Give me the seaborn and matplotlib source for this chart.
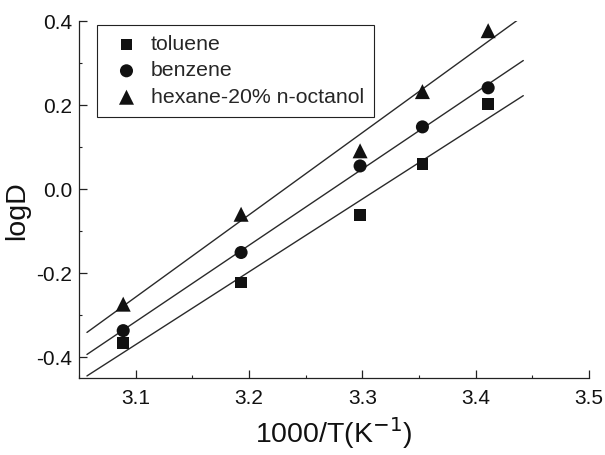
import numpy as np
import pandas as pd
import matplotlib

matplotlib.use("Agg")

import matplotlib.pyplot as plt
import seaborn as sns
from matplotlib.ticker import MultipleLocator, FormatStrFormatter

# data
inv_T = [3.089, 3.193, 3.298, 3.353, 3.411]   # 1000/T (K^-1)
toluene = [-0.367, -0.222, -0.062, 0.060, 0.202]
benzene = [-0.337, -0.151, 0.055, 0.148, 0.241]
hexane = [-0.274, -0.060, 0.091, 0.232, 0.377]
labels = ["toluene", "benzene", "hexane-20% n-octanol"]
FIT_RANGE = [3.057, 3.442]

sns.set_theme(style="ticks")
plt.rcParams["font.family"] = ["Liberation Sans", "DejaVu Sans"]

series = [toluene, benzene, hexane]
markers = ["s", "o", "^"]
sizes = [8.3, 9.4, 10.8]   # marker size in points

fig = plt.figure(figsize=(6.05, 4.55), dpi=100)
ax = fig.add_axes([0.1306, 0.169, 0.843, 0.7848])

for vals, lab, mk, ms in zip(series, labels, markers, sizes):
    df = pd.DataFrame({"x": inv_T, "y": vals})
    slope, icpt = np.polyfit(df["x"], df["y"], 1)
    fx = np.array(FIT_RANGE)
    sns.lineplot(x=fx, y=slope * fx + icpt, color="#2a2a2a", lw=1.0, ax=ax)
    sns.scatterplot(data=df, x="x", y="y", marker=mk, s=ms ** 2, color="#111111",
                    edgecolor="none", label=lab, ax=ax, zorder=3)

ax.set_xlim(3.05, 3.5)
ax.set_ylim(-0.45, 0.4)
ax.xaxis.set_major_locator(MultipleLocator(0.1))
ax.xaxis.set_minor_locator(MultipleLocator(0.05))
ax.yaxis.set_major_locator(MultipleLocator(0.2))
ax.yaxis.set_minor_locator(MultipleLocator(0.1))
ax.xaxis.set_major_formatter(FormatStrFormatter("%.1f"))
ax.yaxis.set_major_formatter(FormatStrFormatter("%.1f"))

sns.despine(ax=ax)
for sp in ["left", "bottom"]:
    ax.spines[sp].set_linewidth(0.9)
    ax.spines[sp].set_color("#222222")

ax.tick_params(which="major", direction="in", length=5.5, width=0.9,
               labelsize=15, colors="#222222", labelcolor="#111111")
ax.tick_params(axis="x", which="major", pad=8)
ax.tick_params(axis="y", which="major", pad=5)
ax.tick_params(which="minor", direction="in", length=2.5, width=0.8, colors="#222222")

ax.set_xlabel("1000/T(K$^{-1}$)", fontsize=20.5, labelpad=5, color="#111111")
ax.set_ylabel("logD", fontsize=20.5, color="#111111")
ax.yaxis.set_label_coords(-0.095, 0.47)

leg = ax.legend(loc="upper left", bbox_to_anchor=(0.036, 0.989), borderaxespad=0,
                fontsize=15.3, frameon=True, fancybox=False, framealpha=1,
                handlelength=1.8, handletextpad=0.25, labelspacing=0.35, borderpad=0.47)
leg.get_frame().set_edgecolor("#222222")
leg.get_frame().set_linewidth(0.8)

fig.savefig("out.png", dpi=100)
plt.close(fig)
